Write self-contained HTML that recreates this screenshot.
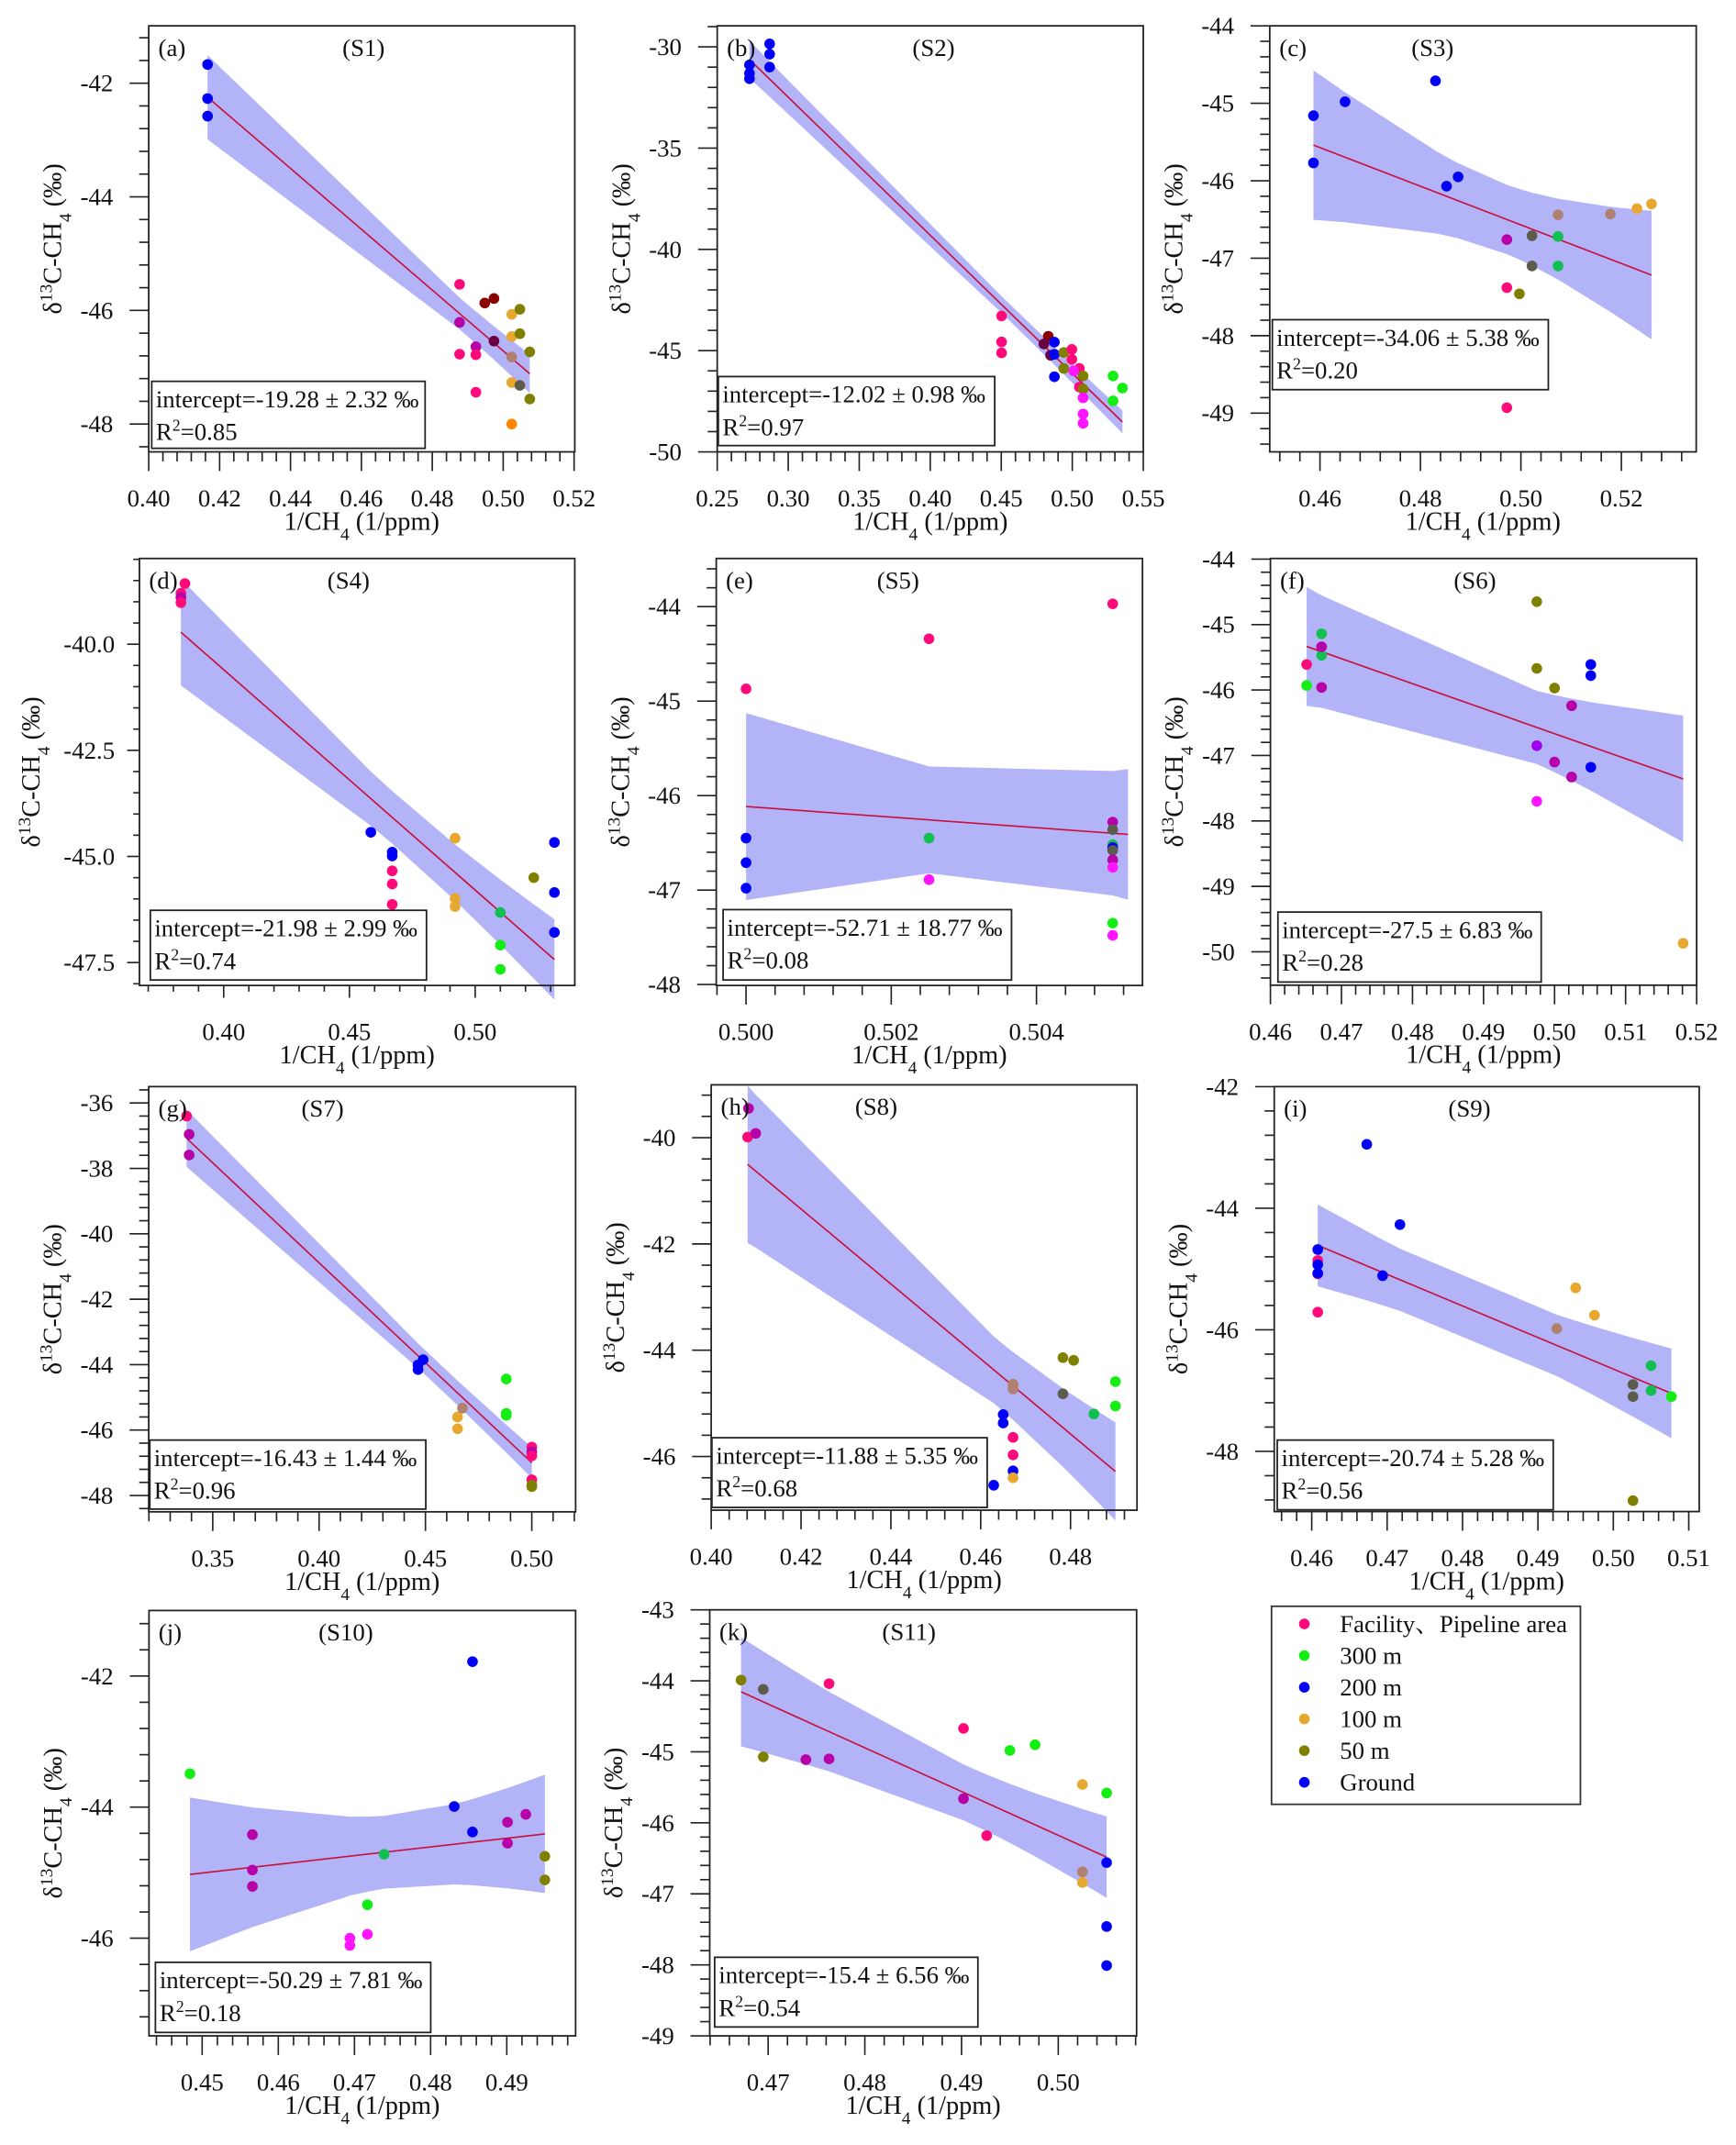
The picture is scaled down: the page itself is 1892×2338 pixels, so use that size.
<!DOCTYPE html>
<html><head><meta charset="utf-8"><title>δ13C-CH4 vs 1/CH4 Keeling plots</title>
<style>
html,body{margin:0;padding:0;background:#fff;}
svg{display:block;font-family:"Liberation Serif","Noto Serif CJK SC",serif;}
svg text{font-family:"Liberation Serif","Noto Serif CJK SC",serif;}
</style></head>
<body>
<svg id="fig" xmlns="http://www.w3.org/2000/svg" width="1892" height="2338" viewBox="0 0 1270 1569.35" preserveAspectRatio="none" font-family="Liberation Serif, Noto Serif CJK SC, serif"></svg>
<script>
// ---------- data ----------
const s1X = [.4166,.4166,.4166,.4877,.4877,.4877,.4923,.4923,.4923,.4948,.4974,.4974,.5024,.5024,.5024,.5024,.5024,.5047,.5047,.5047,.5075,.5075];
const s1Y = [-41.67,-42.27,-42.58,-45.54,-46.21,-46.77,-46.64,-46.78,-47.44,-45.87,-45.79,-46.54,-46.07,-46.46,-47.27,-48.0,-46.82,-45.98,-46.41,-47.32,-46.73,-47.56];
const s1C = ['B','B','B','P','U','P','U','P','P','R','R','W','O','O','O','o','N','L','L','D','L','L'];

const s2X = [.2727,.2727,.2727,.2869,.2869,.2869,.4502,.4502,.4502,.4831,.48,.4847,.4874,.4874,.4874,.494,.494,.4997,.4997,.505,.501,.505,.5076,.5076,.5076,.5076,.5076,.5287,.5287,.5353];
const s2Y = [-30.89,-31.31,-31.57,-29.85,-30.36,-31.0,-43.29,-44.57,-45.11,-44.29,-44.67,-45.23,-44.58,-45.18,-46.29,-45.09,-45.88,-44.94,-45.43,-45.88,-46.0,-46.8,-46.25,-46.9,-47.33,-48.13,-48.59,-46.25,-47.48,-46.85];
const s2C = ['B','B','B','B','B','B','P','P','P','R','W','W','B','B','B','L','L','P','P','P','M','P','L','L','M','M','M','G','G','G'];

const s3X = [.4587,.4587,.465,.483,.4852,.4875,.4972,.4972,.4972,.4997,.5022,.5022,.5074,.5074,.5074,.5178,.5231,.526];
const s3Y = [-45.16,-45.77,-44.98,-44.71,-46.07,-45.95,-46.76,-47.38,-48.93,-47.46,-46.71,-47.1,-46.72,-47.1,-46.44,-46.43,-46.36,-46.3];
const s3C = ['B','B','B','B','B','B','U','P','P','L','D','D','g','g','N','N','O','O'];

const s4X = [.3846,.383,.383,.383,.4585,.467,.467,.467,.467,.467,.492,.492,.492,.51,.51,.51,.5233,.5315,.5315,.5315];
const s4Y = [-38.57,-38.8,-38.9,-39.02,-44.43,-44.9,-44.99,-45.34,-45.65,-46.13,-44.57,-45.99,-46.18,-46.32,-47.09,-47.66,-45.5,-44.67,-45.85,-46.79];
const s4C = ['P','P','U','P','B','B','B','P','P','P','O','O','O','g','G','G','L','B','B','B'];

const s5X = [.5,.5,.5,.5,.50252,.50252,.50252,.50505,.50505,.50505,.50505,.50505,.50505,.50505,.50505,.50505,.50505];
const s5Y = [-44.87,-46.45,-46.71,-46.98,-44.34,-46.45,-46.89,-43.97,-46.28,-46.36,-46.52,-46.55,-46.58,-46.68,-46.76,-47.35,-47.48];
const s5C = ['P','B','B','B','P','g','M','P','U','D','g','B','D','U','M','G','M'];

const s6X = [.4651,.4651,.4672,.4672,.4672,.4672,.4975,.4975,.5,.5024,.5024,.5,.4975,.4975,.5051,.5051,.5051,.5181];
const s6Y = [-45.61,-45.93,-45.14,-45.47,-45.34,-45.96,-44.65,-45.67,-45.97,-46.24,-47.33,-47.1,-46.85,-47.7,-45.61,-45.78,-47.18,-49.87];
const s6C = ['P','G','g','g','U','U','L','L','L','U','U','U','V','M','B','B','B','O'];

const s7X = [.3377,.3389,.3389,.4489,.4465,.4465,.4651,.4651,.4674,.488,.488,.488,.5,.5,.5,.5,.5,.5];
const s7Y = [-36.4,-36.96,-37.59,-43.85,-44.01,-44.15,-45.6,-45.96,-45.33,-44.44,-45.49,-45.55,-46.52,-46.67,-46.79,-47.52,-47.68,-47.73];
const s7C = ['P','U','U','B','B','B','O','O','N','G','G','G','P','U','P','P','L','L'];

const s8X = [.4083,.4081,.4099,.4672,.4672,.465,.465,.4672,.4672,.4672,.4672,.4629,.4783,.4807,.4783,.4852,.49,.49];
const s8Y = [-39.45,-39.99,-39.92,-44.64,-44.73,-45.21,-45.37,-45.64,-45.97,-46.27,-46.4,-46.54,-44.14,-44.19,-44.82,-45.2,-44.59,-45.05];
const s8C = ['U','P','U','N','N','B','B','P','P','B','O','B','L','L','D','g','G','G'];

const s9X = [.4673,.4717,.4694,.4608,.4608,.4608,.4608,.4608,.4608,.495,.4975,.4925,.5026,.5026,.5026,.505,.505,.5077];
const s9Y = [-42.95,-44.27,-45.11,-44.86,-45.08,-45.71,-44.68,-44.93,-45.07,-45.31,-45.76,-45.98,-46.9,-47.1,-48.81,-46.59,-47.0,-47.1];
const s9C = ['B','B','B','P','P','P','B','B','B','O','O','N','D','D','L','g','g','G'];

const s10X = [.4484,.4566,.4566,.4566,.4694,.4694,.4717,.4717,.4739,.4831,.4855,.4855,.4901,.4901,.4925,.495,.495];
const s10Y = [-43.49,-44.42,-44.96,-45.21,-46.0,-46.11,-45.94,-45.49,-44.72,-43.99,-41.78,-44.38,-44.23,-44.55,-44.11,-44.75,-45.11];
const s10C = ['G','U','U','U','M','M','M','G','g','B','B','B','U','U','U','L','L'];

const s11X = [.4672,.4695,.4695,.4739,.4763,.4763,.4902,.4902,.4926,.495,.4976,.5025,.5025,.5025,.505,.505,.505,.505];
const s11Y = [-43.99,-44.12,-45.07,-45.11,-45.1,-44.04,-44.67,-45.66,-46.18,-44.98,-44.9,-45.46,-46.84,-46.69,-45.58,-46.56,-47.46,-48.01];
const s11C = ['L','D','L','U','U','P','P','U','P','G','G','O','O','N','G','B','B','B'];

const panelLetters = ['a','b','c','d','e','f','g','h','i','j','k'];
const panelSites = ['S1','S2','S3','S4','S5','S6','S7','S8','S9','S10','S11'];
const interceptTexts = ['-19.28 ± 2.32','-12.02 ± 0.98','-34.06 ± 5.38','-21.98 ± 2.99','-52.71 ± 18.77','-27.5 ± 6.83','-16.43 ± 1.44','-11.88 ± 5.35','-20.74 ± 5.28','-50.29 ± 7.81','-15.4 ± 6.56'];
const r2Texts = ['0.85','0.97','0.20','0.74','0.08','0.28','0.96','0.68','0.56','0.18','0.54'];
const legendLabels = ['Facility、Pipeline area','300 m','200 m','100 m','50 m','Ground'];
const legendKeys = ['P','G','B','O','L','B'];

// ---------- styling / layout ----------
const FONT = '"Liberation Serif","Noto Serif CJK SC",serif';
const COL = {P:'#ff0a7a',G:'#14ee14',g:'#10c050',B:'#0000f8',O:'#e8a830',o:'#ff8400',L:'#808000',U:'#b800a8',M:'#ff14ff',R:'#8a0000',W:'#6a0040',N:'#b08070',D:'#5c5c4c',V:'#a000f0'};
const LAYOUT = [
 {fr:[108.8,18.9,420.5,330.6], xd:[0.40,0.5202], yd:[-40.99,-48.49], xs:0.02, ys:2, xdec:2, ydec:0, sx:266, box:[111,279,311,328]},
 {fr:[524.7,18.9,836.4,330.6], xd:[0.25,0.55], yd:[-28.96,-50], xs:0.05, ys:5, xdec:2, ydec:0, sx:683, box:[525.5,275.5,727.7,326]},
 {fr:[928.9,18.9,1240.9,330.6], xd:[0.45,0.5349], yd:[-44,-49.5], xs:0.02, ys:1, xdec:2, ydec:0, sx:1048, box:[930.8,233.9,1132.7,285.1]},
 {fr:[102,408.6,420.5,721], xd:[0.3665,0.5396], yd:[-37.98,-48.04], xs:0.05, ys:2.5, xdec:2, ydec:1, sx:255, box:[110,666,312,717], tl:9, ylo:-18, yto:-73},
 {fr:[524,408.6,835.8,721], xd:[0.49959,0.50546], yd:[-43.49,-48.01], xs:0.002, ys:1, xdec:3, ydec:0, sx:657, box:[529,665.5,740,717], fitHi:0.50526},
 {fr:[929.4,408.6,1241.2,720.8], xd:[0.46,0.52], yd:[-43.99,-50.51], xs:0.01, ys:1, xdec:2, ydec:0, sx:1079, box:[934.9,667.3,1127.5,718.5]},
 {fr:[108.8,795,421.1,1106.1], xd:[0.3199,0.5206], yd:[-35.5,-48.5], xs:0.05, ys:2, xdec:2, ydec:0, sx:236, box:[109.6,1053.6,311.5,1104.1]},
 {fr:[520.3,793.7,831.8,1104.9], xd:[0.40,0.4948], yd:[-39.006,-47.01], xs:0.02, ys:2, xdec:2, ydec:0, sx:641, box:[520.8,1051.9,722.2,1102.9]},
 {fr:[932.2,795,1243.1,1105.9], xd:[0.45503,0.51139], yd:[-42,-48.99], xs:0.01, ys:2, xdec:2, ydec:0, sx:1075, box:[934.4,1053.6,1136.3,1104.6]},
 {fr:[109,1178.3,421.1,1489.5], xd:[0.44302,0.49904], yd:[-41.0,-47.49], xs:0.01, ys:2, xdec:2, ydec:0, sx:253, box:[113.7,1435.7,315.1,1487]},
 {fr:[519.2,1177.8,831.5,1489.5], xd:[0.46396,0.5081], yd:[-43,-49], xs:0.01, ys:1, xdec:2, ydec:0, sx:665, box:[522.8,1432,715.4,1483]}
];
const DATA = [[s1X,s1Y,s1C],[s2X,s2Y,s2C],[s3X,s3Y,s3C],[s4X,s4Y,s4C],[s5X,s5Y,s5C],[s6X,s6Y,s6C],[s7X,s7Y,s7C],[s8X,s8Y,s8C],[s9X,s9Y,s9C],[s10X,s10Y,s10C],[s11X,s11Y,s11C]];

const NS = 'http://www.w3.org/2000/svg';
const svg = document.getElementById('fig');
function mk(tag, attrs, parent){
  const e = document.createElementNS(NS, tag);
  for (const k in attrs) e.setAttribute(k, attrs[k]);
  if (tag === 'text') e.style.fontFamily = FONT;
  (parent||svg).appendChild(e);
  return e;
}
function fmt(v, d){ let s = v.toFixed(d); if (/^-0(\.0*)?$/.test(s)) s = s.slice(1); return s; }
function tval(df){ return 1.96 + 2.5/df + 2/(df*df); }

function fitLine(X, Y){
  const n = X.length;
  let mx=0,my=0; for(let i=0;i<n;i++){mx+=X[i];my+=Y[i];} mx/=n; my/=n;
  let sxx=0,sxy=0; for(let i=0;i<n;i++){sxx+=(X[i]-mx)**2; sxy+=(X[i]-mx)*(Y[i]-my);}
  const b = sxy/sxx, a = my - b*mx;
  let sse=0; for(let i=0;i<n;i++){ sse += (Y[i]-a-b*X[i])**2; }
  const s = Math.sqrt(sse/(n-2));
  return {a,b,s,mx,sxx,n,t:tval(n-2)};
}

function drawPanel(pi){
  const L = LAYOUT[pi];
  const [X,Y,C] = DATA[pi];
  const [x0,y0,x1,y1] = L.fr;
  const sx = v => x0 + (v - L.xd[0])/(L.xd[1]-L.xd[0])*(x1-x0);
  const sy = v => y0 + (v - L.yd[0])/(L.yd[1]-L.yd[0])*(y1-y0);
  const g = mk('g', {});
  
  

  const f = fitLine(X, Y);
  const ux = Array.from(new Set(X)).sort((p,q)=>p-q);
  if (L.fitHi && L.fitHi > ux[ux.length-1]) ux.push(L.fitHi);
  const hw = x => f.t*f.s*Math.sqrt(1/f.n + (x-f.mx)**2/f.sxx);
  const up = ux.map(x => sx(x).toFixed(2)+','+sy(f.a+f.b*x+hw(x)).toFixed(2));
  const lo = ux.slice().reverse().map(x => sx(x).toFixed(2)+','+sy(f.a+f.b*x-hw(x)).toFixed(2));
  const band = mk('polygon', {points: up.concat(lo).join(' '), fill:'#b3b3f8', stroke:'none'}, g);
  
  
  const xa = ux[0], xb = ux[ux.length-1];
  const ln = mk('line', {x1:sx(xa), y1:sy(f.a+f.b*xa), x2:sx(xb), y2:sy(f.a+f.b*xb), stroke:'#c8103c', 'stroke-width':1.1}, g);
  
  

  for (let i=0;i<X.length;i++){
    const c = mk('circle', {cx:sx(X[i]).toFixed(2), cy:sy(Y[i]).toFixed(2), r:3.9, fill:COL[C[i]]}, g);
    
    
  }

  const fr = mk('rect', {x:x0, y:y0, width:x1-x0, height:y1-y0, fill:'none', stroke:'#222', 'stroke-width':1.2}, g);
  
  

  const tl = L.tl || 14, tm = tl/2;
  const xm = L.xs/5;
  const xa0 = Math.ceil(Math.min(...L.xd)/xm - 1e-6), xa1 = Math.floor(Math.max(...L.xd)/xm + 0.02);
  for (let k=xa0;k<=xa1;k++){
    const v = k*xm, px = sx(v);
    if (px < x0-0.6 || px > x1+1.5) continue;
    const major = (((k%5)+5)%5)===0;
    const t = mk('line', {x1:px, y1:y1, x2:px, y2:y1+(major?tl:tm), stroke:'#222', 'stroke-width':1.1}, g);
    
    
    if (major){
      const tx = mk('text', {x:px, y:y1+40, 'text-anchor':'middle', 'font-size':18, fill:'#111'}, g);
      tx.textContent = fmt(v, L.xdec);
      
      
    }
  }
  const ym = L.ys/5;
  const ya0 = Math.ceil(Math.min(...L.yd)/ym - 0.02), ya1 = Math.floor(Math.max(...L.yd)/ym + 0.02);
  for (let k=ya0;k<=ya1;k++){
    const v = k*ym, py = sy(v);
    if (py < y0-1.5 || py > y1+0.6) continue;
    const major = (((k%5)+5)%5)===0;
    const t = mk('line', {x1:x0-(major?tl:tm), y1:py, x2:x0, y2:py, stroke:'#222', 'stroke-width':1.1}, g);
    
    
    if (major){
      const ty = mk('text', {x:x0+(L.ylo||-26), y:py+6, 'text-anchor':'end', 'font-size':18, fill:'#111'}, g);
      ty.textContent = fmt(v, L.ydec);
      
      
    }
  }

  const pl = mk('text', {x:x0+7, y:y0+22, 'font-size':18, fill:'#111'}, g);
  pl.textContent = '(' + panelLetters[pi] + ')';
  
  
  const st = mk('text', {x:L.sx, y:y0+22, 'text-anchor':'middle', 'font-size':18, fill:'#111'}, g);
  st.textContent = '(' + panelSites[pi] + ')';
  
  

  const xt = mk('text', {x:(x0+x1)/2, y:y1+57, 'text-anchor':'middle', 'font-size':19, fill:'#111'}, g);
  xt.innerHTML = '1/CH<tspan baseline-shift="sub" font-size="13">4</tspan> (1/ppm)';
  
  
  const yx = x0 + (L.yto || -64), yy = (y0+y1)/2;
  const yt = mk('text', {x:yx, y:yy, 'text-anchor':'middle', 'font-size':19, fill:'#111', transform:'rotate(-90 '+yx+' '+yy+')'}, g);
  yt.innerHTML = 'δ<tspan baseline-shift="super" font-size="13">13</tspan>C-CH<tspan baseline-shift="sub" font-size="13">4</tspan> (‰)';
  
  

  const [bx0,by0,bx1,by1] = L.box;
  const bg = mk('g', {}, g);
  
  
  mk('rect', {x:bx0, y:by0, width:bx1-bx0, height:by1-by0, fill:'#fff', stroke:'#222', 'stroke-width':1.2}, bg);
  const t1 = mk('text', {x:bx0+3, y:by0+19, 'font-size':18, fill:'#111'}, bg);
  t1.textContent = 'intercept=' + interceptTexts[pi] + ' ‰';
  
  
  const t2 = mk('text', {x:bx0+3, y:by0+43, 'font-size':18, fill:'#111'}, bg);
  t2.innerHTML = 'R<tspan baseline-shift="super" font-size="12">2</tspan>=' + r2Texts[pi];
  
  
}

for (let i=0;i<LAYOUT.length;i++) drawPanel(i);

const lg = mk('g', {});


mk('rect', {x:930.2, y:1175.2, width:226, height:144.9, fill:'#fff', stroke:'#333', 'stroke-width':1.2}, lg);
for (let i=0;i<legendLabels.length;i++){
  const ry = 1188.1 + i*23.18;
  const e = mk('g', {}, lg);
  
  
  mk('circle', {cx:954.2, cy:ry, r:3.9, fill:COL[legendKeys[i]]}, e);
  const t = mk('text', {x:980.2, y:ry+6, 'font-size':18, fill:'#111'}, e);
  t.textContent = legendLabels[i];
}
</script>
</body></html>
